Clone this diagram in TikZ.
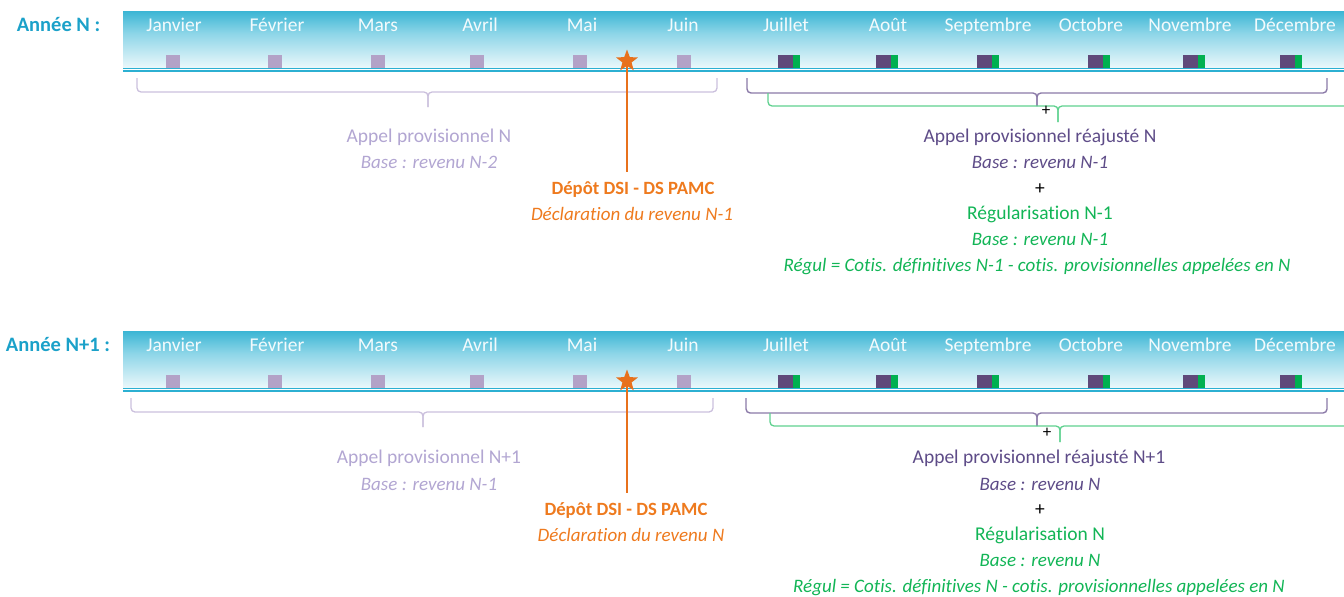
\documentclass[tikz,border=0pt]{standalone}
\usepackage{fontspec}
\setmainfont{Carlito}[Ligatures=NoCommon]
\usetikzlibrary{shapes.geometric}
\definecolor{bandtop}{HTML}{12A5CA}
\definecolor{bandmid}{HTML}{8ED6E8}
\definecolor{cyanlbl}{HTML}{1BA1C9}
\definecolor{cyanline}{HTML}{2CB0D2}
\definecolor{lpurple}{HTML}{B3A2C7}
\definecolor{lpurtext}{HTML}{B2A6D2}
\definecolor{lpurbr}{HTML}{CBC0DD}
\definecolor{dpurple}{HTML}{5F497A}
\definecolor{dpurtext}{HTML}{5E4C88}
\definecolor{dpurbr}{HTML}{8B7AA8}
\definecolor{greenc}{HTML}{00B050}
\definecolor{greentext}{HTML}{12B556}
\definecolor{greenbr}{HTML}{5FD18F}
\definecolor{orangec}{HTML}{E8711C}
\definecolor{orangetext}{HTML}{EE7A1E}
\pgfdeclareverticalshading{bandshade}{100bp}{color(0bp)=(white); color(18bp)=(white); color(55bp)=(bandmid); color(85bp)=(bandtop); color(100bp)=(bandtop)}
\newcommand\yearband[1]{%
  \shade[shading=bandshade] (123,11) rectangle (1344,67.5);
  \draw[cyanline,line width=1.3pt] (123,68.3) -- (1344,68.3);
  \draw[cyanline,line width=1.1pt] (123,71) -- (1344,71);
  \foreach \x/\m [count=\i] in {174/Janvier,277/Février,378/Mars,480/Avril,582/Mai,683/Juin,786/Juillet,888/Août,988/Septembre,1091/Octobre,1190/Novembre,1295/Décembre}
    \node[month] (#1m\i) at (\x,31) {\m};
  \foreach \c in {173,275,378,477,580,684}
    \fill[lpurple] (\c-7,55) rectangle (\c+7,68);
  \foreach \c in {789,887,988,1099,1194,1291}{
    \fill[dpurple] (\c-11,54.5) rectangle (\c+4,67.5);
    \fill[greenc] (\c+4,54.5) rectangle (\c+11,67.5);
  }
  \node[starmark] (#1star) at (627,61) {};
}
\begin{document}
\begin{tikzpicture}[x=1pt,y=-1pt,
  month/.style={text=white,opacity=0.92,font=\fontsize{19.5}{22}\selectfont,inner sep=0pt,anchor=base},
  yearlbl/.style={text=cyanlbl,font=\fontsize{20.5}{22}\selectfont\bfseries,inner sep=0pt,anchor=base},
  body/.style={font=\fontsize{19.5}{22}\selectfont,inner sep=0pt,anchor=base},
  ital/.style={font=\fontsize{19}{22}\selectfont\itshape,inner sep=0pt,anchor=base},
  bold/.style={font=\fontsize{18.7}{22}\selectfont\bfseries,inner sep=0pt,anchor=base},
  starmark/.style={star,star points=5,star point ratio=2.4,fill=orangec,minimum size=23pt,inner sep=0pt},
  orangeline/.style={draw=orangec,line width=1.2pt},
  lbrace/.style={draw=lpurbr,line width=1.3pt,rounded corners=4pt},
  dbrace/.style={draw=dpurbr,line width=1.4pt,rounded corners=4pt},
  gbrace/.style={draw=greenbr,line width=1.3pt,rounded corners=4pt},
  plus/.style={font=\fontsize{17}{18}\selectfont,inner sep=0pt}]
\useasboundingbox (0,0) rectangle (1344,597);
% ---------------- Year N ----------------
\begin{scope}
  \yearband{a}
  \node[yearlbl] (ayear) at (58.5,31) {Année N :};
  \draw[lbrace] (137,78) -- (137,92) -- (428,92) -- (428,107);
  \draw[lbrace] (428,107) -- (428,92) -- (717,92) -- (717,78);
  \draw[dbrace] (747,78) -- (747,93) -- (1037,93) -- (1037,106);
  \draw[dbrace] (1037,106) -- (1037,93) -- (1327,93) -- (1327,78);
  \draw[gbrace] (768,93) -- (768,106) -- (1058,106) -- (1058,122);
  \draw[gbrace] (1058,122) -- (1058,106) -- (1350,106);
  \node[plus] (aplus1) at (1046,111) {+};
  \node[body,text=lpurtext] (aappel) at (429,142) {Appel provisionnel N};
  \node[ital,text=lpurtext] (abase1) at (429,168) {Base : revenu N-2};
  \node[bold,text=orangetext] (adep) at (633,194) {Dépôt DSI - DS PAMC};
  \node[ital,text=orangetext] (adecl) at (632,220) {Déclaration du revenu N-1};
  \draw[orangeline] (astar.center) -- (astar |- 0,172);
  \node[body,text=dpurtext] (areaj) at (1040,142) {Appel provisionnel réajusté N};
  \node[ital,text=dpurtext] (abase2) at (1040,168) {Base : revenu N-1};
  \node[body] (aplus2) at (1040,194) {+};
  \node[body,text=greentext] (aregul) at (1040,219) {Régularisation N-1};
  \node[ital,text=greentext] (abase3) at (1040,245) {Base : revenu N-1};
  \node[ital,text=greentext] (aform) at (1037,271) {Régul = Cotis. définitives N-1 - cotis. provisionnelles appelées en N};
\end{scope}
% ---------------- Year N+1 ----------------
\begin{scope}[shift={(0,320)}]
  \yearband{b}
  \node[yearlbl] (byear) at (58,31) {Année N+1 :};
  \draw[lbrace] (131,78) -- (131,92) -- (423,92) -- (423,107);
  \draw[lbrace] (423,107) -- (423,92) -- (713,92) -- (713,78);
  \draw[dbrace] (746,78) -- (746,93) -- (1037,93) -- (1037,106);
  \draw[dbrace] (1037,106) -- (1037,93) -- (1327,93) -- (1327,78);
  \draw[gbrace] (770,93) -- (770,106) -- (1060,106) -- (1060,122);
  \draw[gbrace] (1060,122) -- (1060,106) -- (1350,106);
  \node[plus] (bplus1) at (1047,113) {+};
  \node[body,text=lpurtext] (bappel) at (429,143) {Appel provisionnel N+1};
  \node[ital,text=lpurtext] (bbase1) at (429,170) {Base : revenu N-1};
  \node[bold,text=orangetext] (bdep) at (626,195) {Dépôt DSI - DS PAMC};
  \node[ital,text=orangetext] (bdecl) at (631,221) {Déclaration du revenu N};
  \draw[orangeline] (bstar.center) -- (bstar |- 0,173);
  \node[body,text=dpurtext] (breaj) at (1039,143) {Appel provisionnel réajusté N+1};
  \node[ital,text=dpurtext] (bbase2) at (1040,170) {Base : revenu N};
  \node[body] (bplus2) at (1040,195) {+};
  \node[body,text=greentext] (bregul) at (1040,220) {Régularisation N};
  \node[ital,text=greentext] (bbase3) at (1040,246) {Base : revenu N};
  \node[ital,text=greentext] (bform) at (1039,272) {Régul = Cotis. définitives N - cotis. provisionnelles appelées en N};
\end{scope}
\end{tikzpicture}
\end{document}
